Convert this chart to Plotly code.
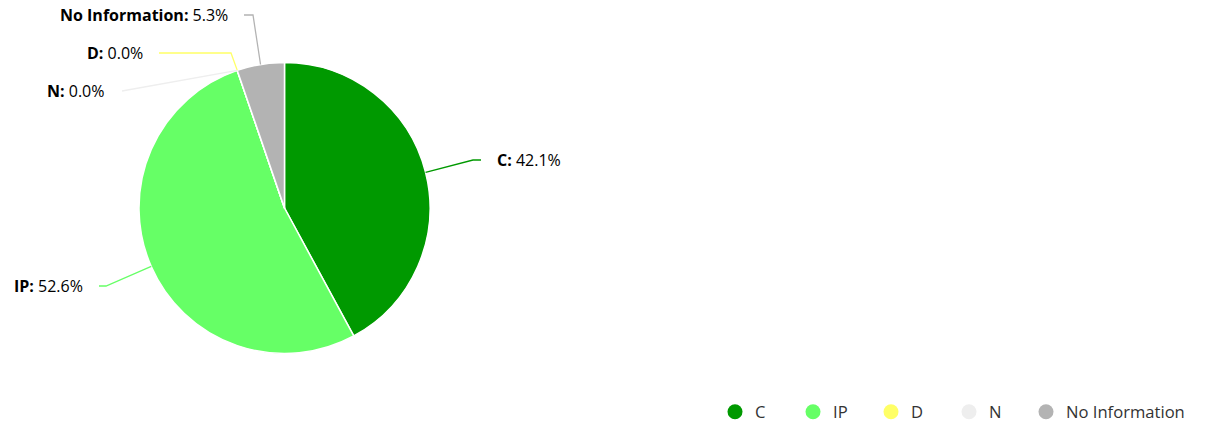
import math
import plotly.graph_objects as go

# Slice data
categories = ["C", "IP", "D", "N", "No Information"]
counts = [8, 10, 0, 0, 1]
colors = ["#009900", "#66ff66", "#ffff66", "#eeeeee", "#b3b3b3"]

W, H = 1207, 425
CX, CY, R = 284.5, 208.0, 145.5  # pie centre and radius in pixels

# Label placement: (anchor x, anchor y, side, bend x)
label_layout = {
    "C": (497, 160, "right", 473),
    "IP": (83, 286, "left", 106),
    "D": (143, 53, "left", 231),
    "N": (104, 91, "left", None),
    "No Information": (228, 15, "left", 253),
}

FONT = "Open Sans"


def px(x):
    return x / W


def py(y):
    return 1 - y / H


total = sum(counts)
fig = go.Figure()

fig.add_trace(go.Pie(
    labels=categories,
    values=counts,
    sort=False,
    direction="clockwise",
    rotation=0,
    marker=dict(colors=colors, line=dict(color="#ffffff", width=1.5)),
    textinfo="none",
    hoverinfo="label+percent",
    showlegend=False,
    domain=dict(x=[px(CX - R), px(CX + R)], y=[py(CY + R), py(CY - R)]),
))

# Legend entries with round symbols; the last, long entry sits in its own legend
for i, (name, col) in enumerate(zip(categories, colors)):
    fig.add_trace(go.Scatter(
        x=[None], y=[None], mode="markers", name=name,
        marker=dict(color=col, size=15, symbol="circle"),
        hoverinfo="skip",
        legend="legend2" if i == len(categories) - 1 else "legend",
    ))

shapes = []
annotations = []
cum = 0.0
for name, val, col in zip(categories, counts, colors):
    frac = val / total
    mid = (cum + frac / 2) * 2 * math.pi
    cum += frac
    ex = CX + R * math.sin(mid)
    ey = CY - R * math.cos(mid)
    lx, ly, side, bend = label_layout[name]
    if side == "right":
        end_x = lx - 16
        pts = [(ex, ey), (bend, ly), (end_x, ly)]
        xanchor, xshift = "left", -2
    else:
        end_x = lx + 16
        if bend is None:
            pts = [(ex, ey), (end_x + 2, ly)]
        else:
            pts = [(ex, ey), (bend, ly), (end_x, ly)]
        xanchor, xshift = "right", 2
    path = "M " + " L ".join(f"{px(a):.5f},{py(b):.5f}" for a, b in pts)
    shapes.append(dict(type="path", xref="paper", yref="paper", path=path,
                       line=dict(color=col, width=1.3)))
    annotations.append(dict(
        x=px(lx), y=py(ly), xref="paper", yref="paper",
        xanchor=xanchor, yanchor="middle", showarrow=False,
        xshift=xshift,
        text=f"<b>{name}:</b> {frac * 100:.1f}%",
        font=dict(family=FONT, size=16, color="#000000"),
    ))

legend_common = dict(
    orientation="h",
    yanchor="middle",
    y=py(412),
    font=dict(family=FONT, size=16.6, color="#333333"),
    itemsizing="trace",
    bgcolor="rgba(0,0,0,0)",
)

fig.update_layout(
    width=W, height=H,
    # fixed margins: the legends must not shrink the drawing area
    margin=dict(l=0, r=0, t=0, b=0, autoexpand=False),
    paper_bgcolor="#ffffff",
    plot_bgcolor="#ffffff",
    xaxis=dict(visible=False),
    yaxis=dict(visible=False),
    shapes=shapes,
    annotations=annotations,
    legend=dict(x=px(715), xanchor="left", entrywidth=33, **legend_common),
    legend2=dict(x=px(1026), xanchor="left", **legend_common),
    showlegend=True,
)

fig.write_html("out.html")
